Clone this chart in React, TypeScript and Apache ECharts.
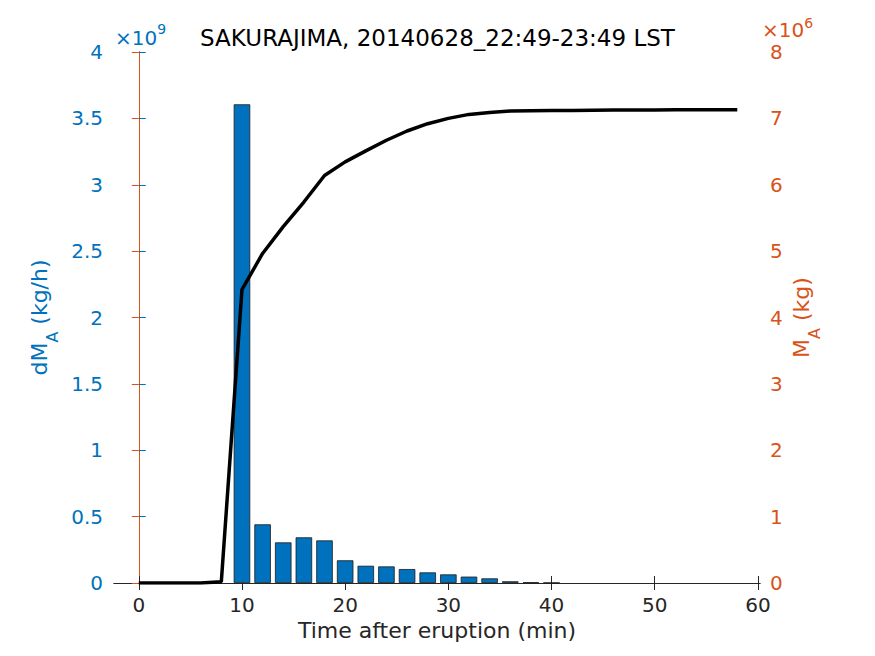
import React, { useEffect, useRef } from "react";
import * as echarts from "echarts";

const titleText = "SAKURAJIMA, 20140628_22:49-23:49 LST";
const xAxisName = "Time after eruption (min)";
const timeMin = [0, 2, 4, 6, 8, 10, 12, 14, 16, 18, 20, 22, 24, 26, 28, 30, 32, 34, 36, 38, 40, 42, 44, 46, 48, 50, 52, 54, 56, 58];
// dM_A in units of 1e9 kg/h
const dMA_e9 = [0, 0, 0, 0, 0, 3.606, 0.442, 0.306, 0.344, 0.321, 0.171, 0.13, 0.125, 0.105, 0.08, 0.065, 0.048, 0.035, 0.013, 0.005, 0.002, 0, 0, 0, 0, 0, 0, 0, 0, 0];
// M_A in units of 1e6 kg
const MA_e6 = [0, 0, 0, 0, 0.02, 4.42, 4.965, 5.37, 5.74, 6.14, 6.345, 6.51, 6.67, 6.81, 6.92, 7.0, 7.06, 7.09, 7.11, 7.115, 7.12, 7.12, 7.123, 7.125, 7.125, 7.127, 7.13, 7.13, 7.13, 7.13];
const xTicks = [0, 10, 20, 30, 40, 50, 60];

const FONT = "'DejaVu Sans', sans-serif";
const BLUE = "#0072BD";
const ORANGE = "#D95319";
const DARK = "#262626";

export default function App() {
  const ref = useRef<HTMLDivElement>(null);
  useEffect(() => {
    document.body.style.margin = "0";
    if (!ref.current) return;
    const chart = echarts.init(ref.current, null, { renderer: "svg" });
    const W = 875, H = 656;
    const gl = 114, gr = 115, gt = 52, gb = 73;
    const xMin = -2.4, xMax = 60.2;
    const plotW = W - gl - gr;
    const barW = (plotW / (xMax - xMin)) * 1.6;
    const cy = gt + (H - gt - gb) / 2;

    const tickStyle = { inside: true, length: 7, lineStyle: { width: 1 } };

    chart.setOption({
      animation: false,
      textStyle: { fontFamily: FONT },
      title: {
        text: titleText,
        left: "center",
        top: 21,
        textStyle: { fontFamily: FONT, fontSize: 23, fontWeight: "normal", color: "#000" },
      },
      grid: { left: gl, right: gr, top: gt, bottom: gb },
      xAxis: [
        {
          type: "value",
          min: xMin,
          max: xMax,
          position: "bottom",
          splitLine: { show: false },
          axisLine: { show: true, lineStyle: { color: DARK, width: 1 } },
          axisTick: { ...tickStyle, customValues: xTicks },
          axisLabel: { customValues: xTicks, color: DARK, fontSize: 20, fontFamily: FONT, margin: 12 },
          name: xAxisName,
          nameLocation: "middle",
          nameGap: 36,
          nameTextStyle: { color: DARK, fontSize: 22, fontFamily: FONT },
        },
        {
          type: "value",
          min: xMin,
          max: xMax,
          position: "top",
          splitLine: { show: false },
          axisLine: { show: true, lineStyle: { color: DARK, width: 1 } },
          axisTick: { ...tickStyle, customValues: xTicks },
          axisLabel: { show: false },
        },
      ],
      yAxis: [
        {
          type: "value",
          min: 0,
          max: 4e9,
          interval: 0.5e9,
          position: "left",
          splitLine: { show: false },
          axisLine: { show: true, lineStyle: { color: BLUE, width: 1 } },
          axisTick: { show: true, ...tickStyle },
          axisLabel: {
            color: BLUE,
            fontSize: 20,
            fontFamily: FONT,
            margin: 11,
            formatter: (v: number) => String(Math.round((v / 1e9) * 10) / 10),
          },
        },
        {
          type: "value",
          min: 0,
          max: 8e6,
          interval: 1e6,
          position: "right",
          splitLine: { show: false },
          axisLine: { show: true, lineStyle: { color: ORANGE, width: 1 } },
          axisTick: { show: true, ...tickStyle },
          axisLabel: {
            color: ORANGE,
            fontSize: 20,
            fontFamily: FONT,
            margin: 10,
            formatter: (v: number) => String(Math.round(v / 1e6)),
          },
        },
      ],
      series: [
        {
          type: "bar",
          xAxisIndex: 0,
          yAxisIndex: 0,
          barWidth: barW,
          data: timeMin
            .map((t, i) => [t, dMA_e9[i] * 1e9])
            .filter((d) => d[1] > 0),
          itemStyle: { color: BLUE, borderColor: "#1a1a1a", borderWidth: 0.8 },
          z: 2,
        },
        {
          type: "line",
          xAxisIndex: 0,
          yAxisIndex: 1,
          data: timeMin.map((t, i) => [t, MA_e6[i] * 1e6]),
          showSymbol: false,
          symbol: "none",
          lineStyle: { color: "#000", width: 3.5 },
          z: 5,
        },
      ],
      graphic: [
        {
          type: "text",
          x: 115,
          y: 48,
          style: {
            text: "{m|×10}{s|9}",
            verticalAlign: "bottom",
            rich: {
              m: { fontSize: 20, fontFamily: FONT, fill: BLUE, lineHeight: 26, verticalAlign: "bottom" },
              s: { fontSize: 14, fontFamily: FONT, fill: BLUE, lineHeight: 26, verticalAlign: "top" },
            },
          },
        },
        {
          type: "text",
          x: 762,
          y: 40,
          style: {
            text: "{m|×10}{s|6}",
            verticalAlign: "bottom",
            rich: {
              m: { fontSize: 20, fontFamily: FONT, fill: ORANGE, lineHeight: 24, verticalAlign: "bottom" },
              s: { fontSize: 14, fontFamily: FONT, fill: ORANGE, lineHeight: 24, verticalAlign: "top" },
            },
          },
        },
        {
          type: "text",
          x: 44,
          y: cy,
          rotation: Math.PI / 2,
          style: {
            text: "{m|dM}{s|A}{m| (kg/h)}",
            align: "center",
            verticalAlign: "middle",
            rich: {
              m: { fontSize: 22, fontFamily: FONT, fill: BLUE, lineHeight: 32, verticalAlign: "top" },
              s: { fontSize: 16, fontFamily: FONT, fill: BLUE, lineHeight: 16, verticalAlign: "bottom" },
            },
          },
        },
        {
          type: "text",
          x: 806,
          y: cy,
          rotation: Math.PI / 2,
          style: {
            text: "{m|M}{s|A}{m| (kg)}",
            align: "center",
            verticalAlign: "middle",
            rich: {
              m: { fontSize: 22, fontFamily: FONT, fill: ORANGE, lineHeight: 32, verticalAlign: "top" },
              s: { fontSize: 16, fontFamily: FONT, fill: ORANGE, lineHeight: 16, verticalAlign: "bottom" },
            },
          },
        },
      ],
    });
    return () => chart.dispose();
  }, []);
  return <div ref={ref} style={{ width: 875, height: 656 }} />;
}
